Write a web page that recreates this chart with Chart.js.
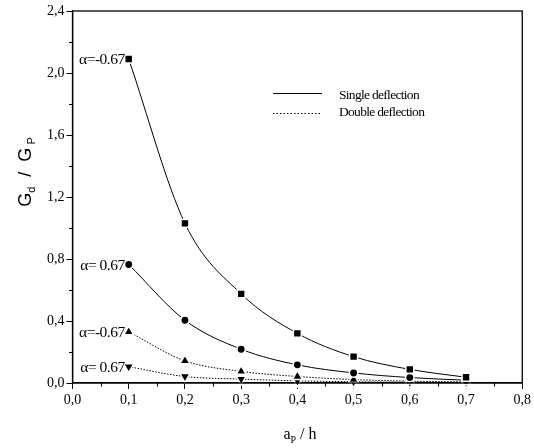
<!DOCTYPE html>
<html>
<head>
<meta charset="utf-8">
<script src="https://cdn.jsdelivr.net/npm/chart.js@4"></script>
<style>
  html, body { margin: 0; padding: 0; background: #fff; }
  #wrap { width: 534px; height: 448px; }
</style>
</head>
<body>
<div id="wrap"><canvas id="chart" width="534" height="448"></canvas></div>
<script>
// a_P/h values
const ratios = [0.1, 0.2, 0.3, 0.4, 0.5, 0.6, 0.7];

// Gd/GP
const singleNeg = [2.09, 1.03, 0.575, 0.32, 0.17, 0.088, 0.037];   // alpha = -0.67, single
const singlePos = [0.765, 0.405, 0.218, 0.117, 0.065, 0.035, 0.018]; // alpha = 0.67, single
const doubleNeg = [0.33, 0.143, 0.075, 0.042, 0.022, 0.012, 0.007];  // alpha = -0.67, double
const doublePos = [0.105, 0.042, 0.025, 0.014, 0.008, 0.005, 0.003]; // alpha = 0.67, double

const curveLabels = ['α=-0.67', 'α= 0.67', 'α=-0.67', 'α= 0.67'];
const legendLabels = ['Single deflection', 'Double deflection'];

const xTicksMinor = 0.05;
const yTicksMinor = 0.2;

const serif = '"Liberation Serif", "DejaVu Serif", serif';
const sans = '"Liberation Sans", Arial, sans-serif';

const toPoints = vals => vals.map((v, i) => ({ x: ratios[i], y: v }));
const comma = v => Number(v).toFixed(1).replace('.', ',');

const makeSet = (vals, style, dashed, label) => ({
    label: label,
    data: toPoints(vals),
    borderColor: '#000',
    borderWidth: 1,
    borderDash: dashed ? [1.5, 1.5] : [],
    pointStyle: style.kind,
    pointRotation: style.rot || 0,
    pointRadius: style.r,
    pointBackgroundColor: '#000',
    pointBorderColor: '#fff',
    pointBorderWidth: 1.5,
    cubicInterpolationMode: 'monotone',
    fill: false,
    clip: false
});

// frame, minor ticks, curve labels, legend and axis titles
const decor = {
    id: 'decor',
    afterDatasetsDraw(chart) {
        const { ctx, chartArea: a, scales } = chart;
        const xs = scales.x, ys = scales.y;
        ctx.save();
        ctx.strokeStyle = '#000';
        ctx.lineWidth = 1.3;
        ctx.strokeRect(a.left, a.top, a.right - a.left, a.bottom - a.top);

        // minor ticks
        ctx.lineWidth = 1;
        ctx.beginPath();
        for (let v = xTicksMinor; v < 0.8; v += 0.1) {
            const px = Math.round(xs.getPixelForValue(v)) + 0.5;
            ctx.moveTo(px, a.bottom);
            ctx.lineTo(px, a.bottom + 3.5);
        }
        for (let v = yTicksMinor; v < 2.4; v += 0.4) {
            const py = Math.round(ys.getPixelForValue(v)) + 0.5;
            ctx.moveTo(a.left, py);
            ctx.lineTo(a.left - 3.5, py);
        }
        ctx.stroke();

        // curve labels beside first point
        ctx.fillStyle = '#000';
        ctx.font = '15.5px ' + serif;
        ctx.letterSpacing = '-0.5px';
        ctx.textAlign = 'right';
        ctx.textBaseline = 'middle';
        chart.data.datasets.forEach((ds, i) => {
            const pt = chart.getDatasetMeta(i).data[0];
            ctx.fillText(curveLabels[i], pt.x - 4, pt.y + 1);
        });

        // legend
        ctx.textAlign = 'left';
        ctx.font = '13.5px ' + serif;
        ctx.letterSpacing = '-0.7px';
        ctx.lineWidth = 1;
        ctx.beginPath();
        ctx.moveTo(273, 93.5);
        ctx.lineTo(322, 93.5);
        ctx.stroke();
        ctx.setLineDash([1.5, 2]);
        ctx.beginPath();
        ctx.moveTo(273, 113.5);
        ctx.lineTo(322, 113.5);
        ctx.stroke();
        ctx.setLineDash([]);
        ctx.fillText(legendLabels[0], 339, 95);
        ctx.fillText(legendLabels[1], 339, 112);

        // x title: a_P / h
        ctx.letterSpacing = '0px';
        ctx.textBaseline = 'alphabetic';
        const xt = [['a', 16, 0], ['P', 10, 4], [' / h', 16, 0]];
        let w = 0;
        xt.forEach(p => { ctx.font = p[1] + 'px ' + serif; w += ctx.measureText(p[0]).width; });
        let cx = 300 - w / 2;
        xt.forEach(p => {
            ctx.font = p[1] + 'px ' + serif;
            ctx.fillText(p[0], cx, 439 + p[2]);
            cx += ctx.measureText(p[0]).width;
        });

        // y title: G_d / G_P
        const yt = [['G', 18, 0], ['d', 11, 4], ['  /  G', 18, 0], [' P', 11, 4]];
        ctx.translate(31, 172);
        ctx.rotate(-Math.PI / 2);
        w = 0;
        yt.forEach(p => { ctx.font = p[1] + 'px ' + sans; w += ctx.measureText(p[0]).width; });
        cx = -w / 2;
        yt.forEach(p => {
            ctx.font = p[1] + 'px ' + sans;
            ctx.fillText(p[0], cx, p[2]);
            cx += ctx.measureText(p[0]).width;
        });
        ctx.restore();
    }
};

new Chart(document.getElementById('chart'), {
    type: 'line',
    data: {
        datasets: [
            makeSet(singleNeg, { kind: 'rect', r: 5.6 }, false, 'single -0.67'),
            makeSet(singlePos, { kind: 'circle', r: 4.2 }, false, 'single 0.67'),
            makeSet(doubleNeg, { kind: 'triangle', r: 5.8 }, true, 'double -0.67'),
            makeSet(doublePos, { kind: 'triangle', r: 5.8, rot: 180 }, true, 'double 0.67')
        ]
    },
    options: {
        responsive: false,
        animation: false,
        layout: { padding: { left: 0, right: 8, top: 11, bottom: 0 } },
        plugins: {
            legend: { display: false },
            tooltip: { enabled: false }
        },
        scales: {
            x: {
                type: 'linear',
                min: 0,
                max: 0.8,
                afterFit: s => { s.height = 65; },
                border: { display: true, color: '#000', width: 1.3 },
                grid: { drawOnChartArea: false, drawTicks: true, tickLength: 6, tickColor: '#000' },
                ticks: {
                    stepSize: 0.1,
                    padding: 3,
                    color: '#000',
                    font: { family: serif, size: 14 },
                    callback: v => comma(v)
                }
            },
            y: {
                min: 0,
                max: 2.4,
                afterFit: s => { s.width = 72.5; },
                border: { display: true, color: '#000', width: 1.3 },
                grid: { drawOnChartArea: false, drawTicks: true, tickLength: 6, tickColor: '#000' },
                ticks: {
                    stepSize: 0.4,
                    padding: 2,
                    color: '#000',
                    font: { family: serif, size: 14 },
                    callback: v => comma(v)
                }
            }
        }
    },
    plugins: [decor]
});
</script>
</body>
</html>
